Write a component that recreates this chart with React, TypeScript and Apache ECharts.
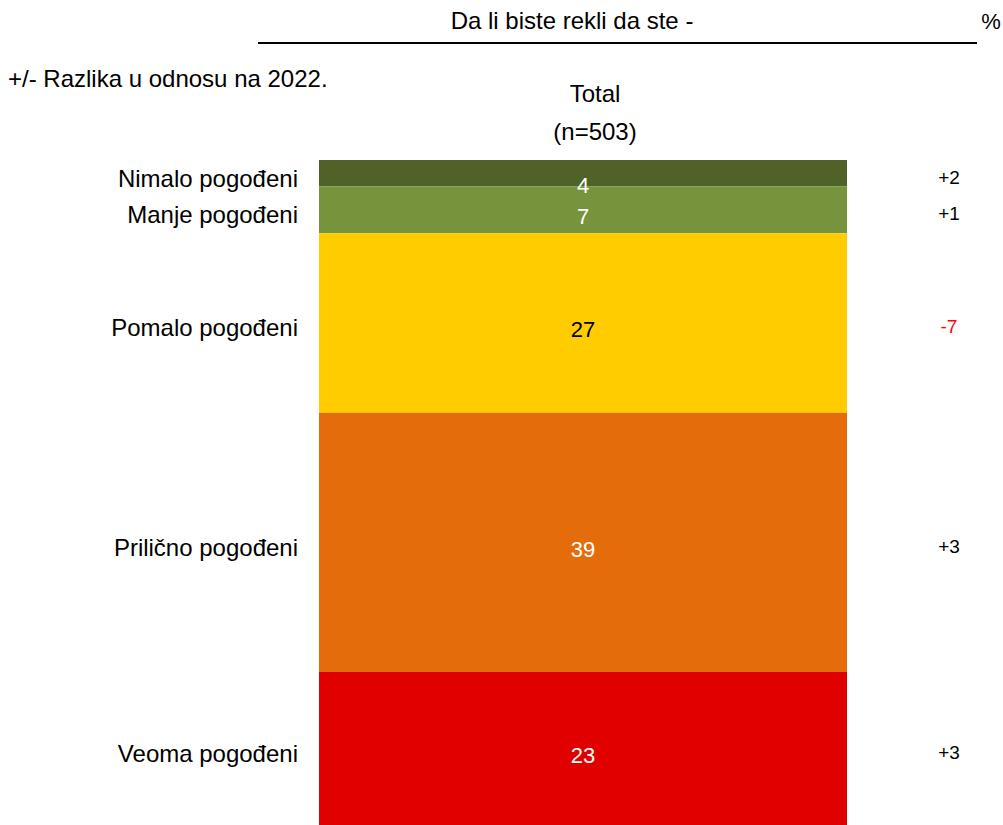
import React, { useEffect, useRef } from 'react';
import * as echarts from 'echarts';

const categories = ['Total'];
const questionTitle = 'Da li biste rekli da ste -';
const unitLabel = '%';
const noteLabel = '+/- Razlika u odnosu na 2022.';
const columnTitle = 'Total';
const sampleLabel = '(n=503)';
const segmentNames = ['Nimalo pogođeni', 'Manje pogođeni', 'Pomalo pogođeni', 'Prilično pogođeni', 'Veoma pogođeni'];
const segmentValues = [4, 7, 27, 39, 23];
const changeVsPrev = ['+2', '+1', '-7', '+3', '+3'];
const segmentColors = ['#4F6228', '#77933C', '#FFCC00', '#E46C0A', '#E00000'];
const valueLabelColors = ['#ffffff', '#ffffff', '#000000', '#ffffff', '#ffffff'];
const changeColors = ['#000000', '#000000', '#ff0000', '#000000', '#000000'];

const FONT = '"Liberation Sans", Arial, sans-serif';
const FS = 24;

export default function App() {
  const ref = useRef<HTMLDivElement>(null);
  useEffect(() => {
    if (!ref.current) return;
    const chart = echarts.init(ref.current, undefined, { renderer: 'svg' });

    const mids: number[] = [];
    let acc = 0;
    segmentValues.forEach((v) => {
      mids.push(acc + v / 2);
      acc += v;
    });

    const barSeries = segmentNames.map((name, i) => ({
      type: 'bar',
      name,
      stack: 'total',
      barWidth: '100%',
      data: [segmentValues[i]],
      itemStyle: { color: segmentColors[i] },
      label: {
        show: true,
        position: 'inside',
        color: valueLabelColors[i],
        fontSize: 22,
        fontFamily: FONT,
        offset: [0, i === 0 ? 12 : 7],
      },
      emphasis: { disabled: true },
    }));

    const sideSeries = {
      type: 'custom',
      silent: true,
      data: mids.map((m, i) => [0, m, i]),
      renderItem: (_params: any, api: any) => {
        const idx = api.value(2);
        const p = api.coord([api.value(0), api.value(1)]);
        return {
          type: 'group',
          children: [
            {
              type: 'text',
              x: p[0] - 285,
              y: p[1] + 5,
              style: {
                text: segmentNames[idx],
                align: 'right',
                verticalAlign: 'middle',
                fontSize: FS,
                fontFamily: FONT,
                fill: '#000',
              },
            },
            {
              type: 'text',
              x: p[0] + 366,
              y: p[1] + 4,
              style: {
                text: changeVsPrev[idx],
                align: 'center',
                verticalAlign: 'middle',
                fontSize: 19,
                fontFamily: FONT,
                fill: changeColors[idx],
              },
            },
          ],
        };
      },
    };

    chart.setOption({
      animation: false,
      grid: { left: 319, right: 156, top: 160, bottom: 0 },
      xAxis: { type: 'category', data: categories, show: false },
      yAxis: { type: 'value', min: 0, max: 100, inverse: true, show: false },
      series: [...barSeries, sideSeries],
      graphic: [
        {
          type: 'text',
          x: 572,
          y: 20,
          style: { text: questionTitle, align: 'center', verticalAlign: 'middle', fontSize: FS, fontFamily: FONT, fill: '#000' },
        },
        {
          type: 'text',
          x: 991,
          y: 21,
          style: { text: unitLabel, align: 'center', verticalAlign: 'middle', fontSize: 22, fontFamily: FONT, fill: '#000' },
        },
        {
          type: 'line',
          shape: { x1: 258, y1: 43, x2: 977, y2: 43 },
          style: { stroke: '#000', lineWidth: 2 },
        },
        {
          type: 'text',
          x: 8,
          y: 78,
          style: { text: noteLabel, align: 'left', verticalAlign: 'middle', fontSize: FS, fontFamily: FONT, fill: '#000' },
        },
        {
          type: 'text',
          x: 595,
          y: 93,
          style: { text: columnTitle, align: 'center', verticalAlign: 'middle', fontSize: FS, fontFamily: FONT, fill: '#000' },
        },
        {
          type: 'text',
          x: 595,
          y: 131,
          style: { text: sampleLabel, align: 'center', verticalAlign: 'middle', fontSize: FS, fontFamily: FONT, fill: '#000' },
        },
      ],
    });
    return () => chart.dispose();
  }, []);

  return (
    <div
      ref={ref}
      style={{ position: 'absolute', left: 0, top: 0, width: 1003, height: 825 }}
    />
  );
}
